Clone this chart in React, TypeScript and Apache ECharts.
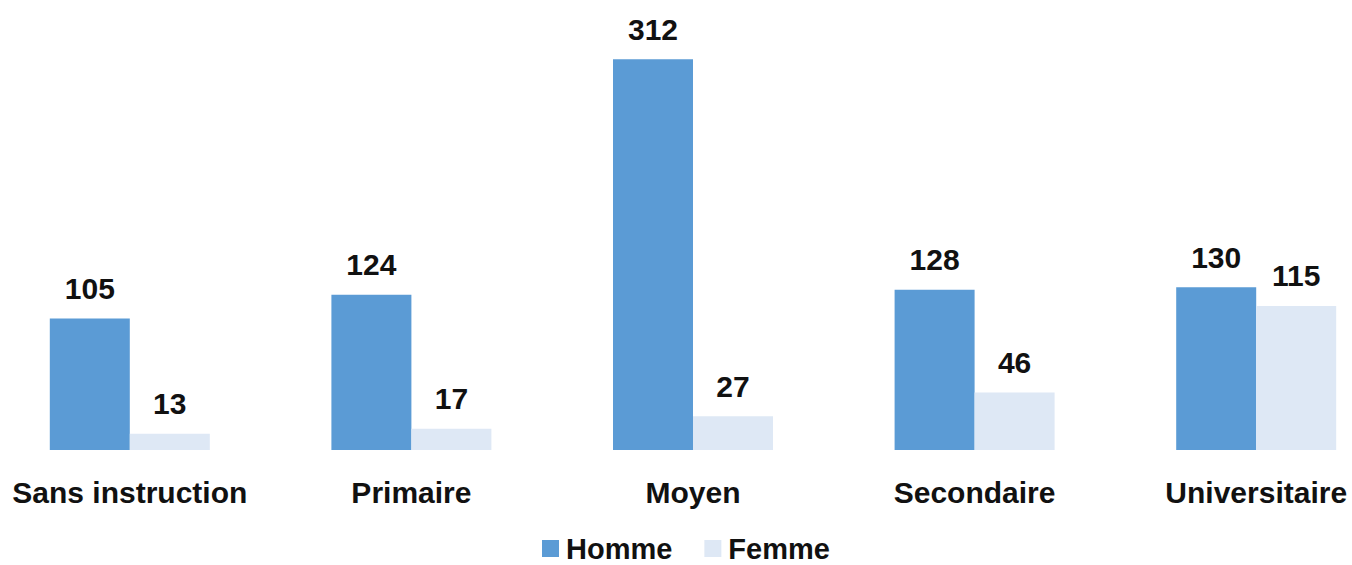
import React, { useEffect, useRef } from "react";
import * as echarts from "echarts";

const categories = ["Sans instruction", "Primaire", "Moyen", "Secondaire", "Universitaire"];
const homme = [105, 124, 312, 128, 130];
const femme = [13, 17, 27, 46, 115];
const seriesNames = ["Homme", "Femme"];

export default function App() {
  const ref = useRef<HTMLDivElement>(null);
  useEffect(() => {
    if (!ref.current) return;
    const chart = echarts.init(ref.current, undefined, { renderer: "svg" });
    const font = "'Liberation Sans', Arial, sans-serif";
    const labelStyle = {
      show: true,
      position: "top" as const,
      distance: 15,
      fontSize: 30,
      fontWeight: "bold" as const,
      color: "#111",
      fontFamily: font,
    };
    chart.setOption({
      animation: false,
      textStyle: { fontFamily: font },
      grid: { left: 0, right: 0, top: 11.7, bottom: 115, containLabel: false },
      legend: {
        data: seriesNames,
        bottom: 2,
        left: 553,
        padding: 0,
        icon: "rect",
        itemWidth: 17,
        itemHeight: 17,
        itemGap: 32,
        textStyle: { fontSize: 29, fontWeight: "bold", color: "#111", fontFamily: font, padding: [0, 0, 0, 2] },
      },
      xAxis: {
        type: "category",
        data: categories,
        axisLine: { show: false },
        axisTick: { show: false },
        axisLabel: {
          fontSize: 30,
          fontWeight: "bold",
          color: "#111",
          margin: 27,
          fontFamily: font,
          interval: 0,
        },
      },
      yAxis: {
        type: "value",
        min: 0,
        max: 350,
        show: false,
        splitLine: { show: false },
      },
      series: [
        {
          name: seriesNames[0],
          type: "bar",
          data: homme,
          barWidth: 80,
          barGap: "0%",
          itemStyle: { color: "#5B9BD5" },
          label: labelStyle,
        },
        {
          name: seriesNames[1],
          type: "bar",
          data: femme,
          barWidth: 80,
          barGap: "0%",
          itemStyle: { color: "#DEE8F5" },
          label: labelStyle,
        },
      ],
    });
    return () => chart.dispose();
  }, []);
  return (
    <div style={{ position: "absolute", left: 0, top: 0, width: 1352, height: 565, overflow: "hidden", background: "#fff" }}>
      <div
        ref={ref}
        style={{ position: "absolute", left: -11, top: 0, width: 1408, height: 565 }}
      />
    </div>
  );
}
